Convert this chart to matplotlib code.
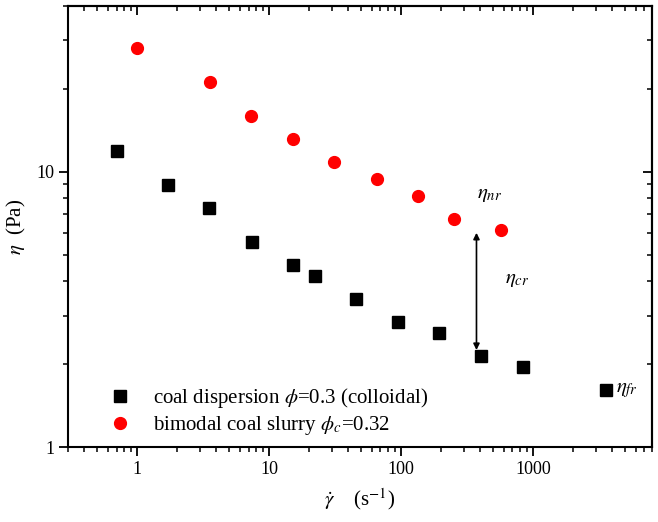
import matplotlib
matplotlib.use("Agg")
import matplotlib.pyplot as plt
from matplotlib.ticker import NullFormatter, LogLocator

plt.rcParams['font.family'] = ['Liberation Serif', 'DejaVu Serif']
plt.rcParams['mathtext.fontset'] = 'stix'

# data
shear_colloidal = [0.705, 1.72, 3.51, 7.43, 15.2, 22.3, 45.6, 94.9, 196, 404, 836, 3573]
eta_colloidal = [11.9, 8.97, 7.4, 5.56, 4.59, 4.19, 3.45, 2.85, 2.6, 2.14, 1.95, 1.61]
shear_bimodal = [1.0, 3.55, 7.35, 15.2, 31.1, 65.4, 134.5, 253, 575]
eta_bimodal = [28.2, 21.2, 15.9, 13.2, 10.85, 9.41, 8.16, 6.75, 6.14]
label_colloidal = r"coal dispersion $\phi$=0.3 (colloidal)"
label_bimodal = r"bimodal coal slurry $\phi_c$=0.32"

fig = plt.figure(figsize=(6.58, 5.22), dpi=100)
ax = fig.add_axes([68/658, 1-447/522, (652-68)/658, (447-6)/522])
ax.set_xscale('log')
ax.set_yscale('log')
ax.set_xlim(0.3, 8000)
ax.set_ylim(1, 40)

ax.plot(shear_colloidal, eta_colloidal, 's', color='black', ms=8, ls='none', label=label_colloidal)
ax.plot(shear_bimodal, eta_bimodal, 'o', color='red', ms=8.5, ls='none', label=label_bimodal)

# arrow between the two regimes
ax.annotate('', xy=(374, 6.0), xytext=(374, 2.25),
            arrowprops=dict(arrowstyle='<|-|>', color='black', lw=1.2, mutation_scale=9, shrinkA=0, shrinkB=0))
ax.text(470, 8.25, r"$\eta_{nr}$", fontsize=15, ha='center', va='center')
ax.text(620, 4.05, r"$\eta_{cr}$", fontsize=15, ha='left', va='center')
ax.text(4300, 1.61, r"$\eta_{fr}$", fontsize=15, ha='left', va='center')

for s in ax.spines.values():
    s.set_linewidth(1.5)
ax.tick_params(which='major', direction='out', length=6.5, width=1.3, labelsize=13)
ax.tick_params(which='minor', direction='out', length=3.6, width=1.1)
ax.yaxis.set_minor_formatter(NullFormatter())
ax.xaxis.set_minor_formatter(NullFormatter())
ax.set_xticks([1, 10, 100, 1000])
ax.set_xticklabels(['1', '10', '100', '1000'])
ax.set_yticks([1, 10])
ax.set_yticklabels(['1', '10'])
ax.xaxis.set_minor_locator(LogLocator(subs=range(2, 10)))
ax.yaxis.set_minor_locator(LogLocator(subs=range(2, 10)))

secx = ax.secondary_xaxis('top')
secx.set_xticks([1, 10, 100, 1000])
secx.xaxis.set_minor_locator(LogLocator(subs=range(2, 10)))
secx.tick_params(which='major', direction='in', length=6.5, width=1.3, labeltop=False)
secx.tick_params(which='minor', direction='in', length=3.6, width=1.1)
secx.xaxis.set_major_formatter(NullFormatter())
secx.xaxis.set_minor_formatter(NullFormatter())
secx.spines['top'].set_linewidth(1.5)

secy = ax.secondary_yaxis('right')
secy.set_yticks([1, 10])
secy.yaxis.set_minor_locator(LogLocator(subs=range(2, 10)))
secy.tick_params(which='major', direction='in', length=6.5, width=1.3, labelright=False)
secy.tick_params(which='minor', direction='in', length=3.6, width=1.1)
secy.yaxis.set_major_formatter(NullFormatter())
secy.yaxis.set_minor_formatter(NullFormatter())
secy.spines['right'].set_linewidth(1.5)

ax.set_ylabel(r"$\eta$  (Pa)", fontsize=15, labelpad=6)
ax.set_xlabel(r"$\dot{\gamma}$    (s$^{-1}$)", fontsize=15, labelpad=6)

leg = ax.legend(loc='lower left', bbox_to_anchor=(0.035, -0.02), frameon=False, fontsize=15,
                handletextpad=1.0, labelspacing=0.2, handlelength=1.2)

fig.savefig('out.png', dpi=100)
